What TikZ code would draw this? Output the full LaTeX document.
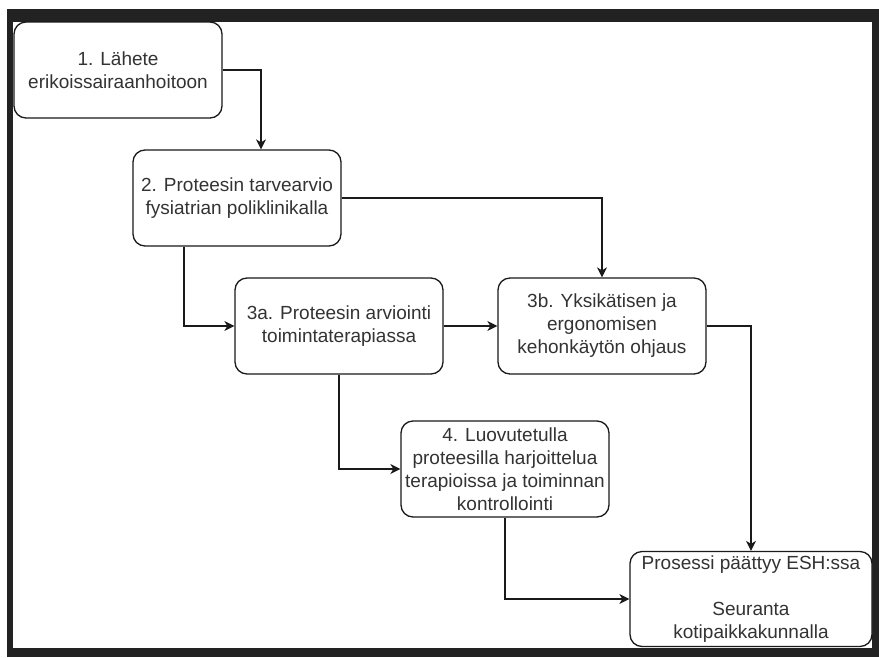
\documentclass[tikz,border=0pt]{standalone}
\usepackage{fontspec}
\setmainfont{Liberation Sans}
\usepackage{xcolor}
\usetikzlibrary{positioning, arrows.meta, calc}
\definecolor{framegray}{HTML}{222222}
\definecolor{linegray}{HTML}{1A1A1A}
\tikzstyle{block} = [rectangle, draw=linegray, line width=1.3pt, fill=white, text=black!80, align=center, rounded corners=12pt, minimum width=208pt, minimum height=96pt, inner sep=0pt, font=\fontsize{19}{23}\selectfont]
\tikzstyle{endblock} = [block, minimum width=242pt, minimum height=95pt]
\tikzstyle{line} = [draw=linegray, line width=1.3pt, -{Stealth[length=10pt, width=10pt, inset=3pt]}]

\begin{document}
\begin{tikzpicture}[x=1pt, y=1pt, node distance=128pt]
        % Frame
        \useasboundingbox (0,0) rectangle (879,-657);
        \fill[white] (0,0) rectangle (879,-657);
        \fill[framegray] (7,-9) rectangle (879,-657);
        \fill[white] (13,-22) rectangle (872,-648);

        % Nodes
        \node (lahete) [block] at (118,-70) {1. Lähete\\erikoissairaanhoitoon};
        \node (tarve) [block, below of=lahete, xshift=119pt] {2. Proteesin tarvearvio\\fysiatrian poliklinikalla};
        \node (arvio) [block, below of=tarve, xshift=102pt] {3a. Proteesin arviointi\\toimintaterapiassa};
        \node (ohjaus) [block, right of=arvio, xshift=135pt] {3b. Yksikätisen ja\\ergonomisen\\kehonkäytön ohjaus};
        \node (harjoittelu) [block, below of=arvio, xshift=166pt, yshift=-15pt] {4. Luovutetulla\\proteesilla harjoittelua\\terapioissa ja toiminnan\\kontrollointi};
        \node (loppu) [endblock, below of=harjoittelu, xshift=246pt, yshift=-2pt] {Prosessi päättyy ESH:ssa\\[23pt]Seuranta\\kotipaikkakunnalla};

        % Edges
        \path [line] (lahete) -| ([xshift=24pt]tarve.north);
        \path [line] (tarve) -| (ohjaus);
        \path [line] ([xshift=-53pt]tarve.south) |- (arvio);
        \path [line] (arvio) -- (ohjaus);
        \path [line] (arvio) |- (harjoittelu);
        \path [line] (ohjaus) -| (loppu);
        \path [line] (harjoittelu) |- (loppu);

    \end{tikzpicture}
\end{document}
